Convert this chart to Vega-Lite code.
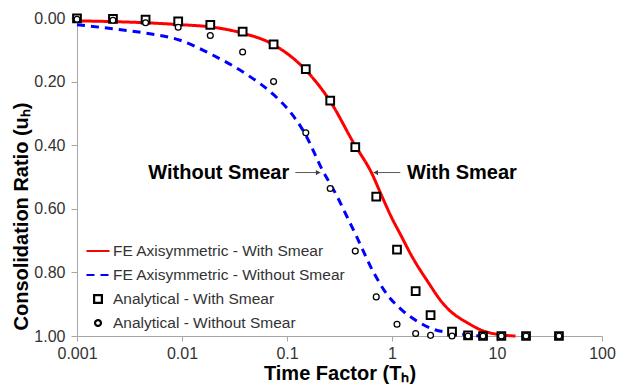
{
  "$schema": "https://vega.github.io/schema/vega-lite/v6.json",
  "width": 525,
  "height": 318,
  "autosize": {"type": "none"},
  "padding": {"left": 77, "top": 18, "right": 24, "bottom": 49},
  "background": "white",
  "config": {
    "view": {"stroke": null},
    "font": "Liberation Sans",
    "axis": {
      "grid": false,
      "labelFlush": false,
      "domainColor": "#a6a6a6",
      "tickColor": "#a6a6a6",
      "labelColor": "#333333",
      "labelFont": "Liberation Sans",
      "labelFontSize": 16,
      "titleFont": "Liberation Sans",
      "titleFontSize": 20,
      "titleFontWeight": "bold",
      "titleColor": "#000000"
    }
  },
  "datasets": {
    "fe": [
      {"T": 0.001, "u": 0.009, "series": "FE Axisymmetric - With Smear"},
      {"T": 0.002, "u": 0.011, "series": "FE Axisymmetric - With Smear"},
      {"T": 0.0045, "u": 0.015, "series": "FE Axisymmetric - With Smear"},
      {"T": 0.0096, "u": 0.021, "series": "FE Axisymmetric - With Smear"},
      {"T": 0.0187, "u": 0.028, "series": "FE Axisymmetric - With Smear"},
      {"T": 0.037, "u": 0.047, "series": "FE Axisymmetric - With Smear"},
      {"T": 0.0745, "u": 0.084, "series": "FE Axisymmetric - With Smear"},
      {"T": 0.149, "u": 0.162, "series": "FE Axisymmetric - With Smear"},
      {"T": 0.258, "u": 0.262, "series": "FE Axisymmetric - With Smear"},
      {"T": 0.431, "u": 0.393, "series": "FE Axisymmetric - With Smear"},
      {"T": 0.645, "u": 0.49, "series": "FE Axisymmetric - With Smear"},
      {"T": 0.8, "u": 0.56, "series": "FE Axisymmetric - With Smear"},
      {"T": 1.0, "u": 0.63, "series": "FE Axisymmetric - With Smear"},
      {"T": 1.2, "u": 0.68, "series": "FE Axisymmetric - With Smear"},
      {"T": 1.55, "u": 0.75, "series": "FE Axisymmetric - With Smear"},
      {"T": 2.2, "u": 0.83, "series": "FE Axisymmetric - With Smear"},
      {"T": 3.1, "u": 0.9, "series": "FE Axisymmetric - With Smear"},
      {"T": 3.6, "u": 0.922, "series": "FE Axisymmetric - With Smear"},
      {"T": 5.2, "u": 0.958, "series": "FE Axisymmetric - With Smear"},
      {"T": 7.4, "u": 0.984, "series": "FE Axisymmetric - With Smear"},
      {"T": 10.8, "u": 0.996, "series": "FE Axisymmetric - With Smear"},
      {"T": 15, "u": 1.0, "series": "FE Axisymmetric - With Smear"},
      {"T": 0.001, "u": 0.021, "series": "FE Axisymmetric - Without Smear"},
      {"T": 0.0022, "u": 0.034, "series": "FE Axisymmetric - Without Smear"},
      {"T": 0.0046, "u": 0.048, "series": "FE Axisymmetric - Without Smear"},
      {"T": 0.0096, "u": 0.07, "series": "FE Axisymmetric - Without Smear"},
      {"T": 0.02, "u": 0.118, "series": "FE Axisymmetric - Without Smear"},
      {"T": 0.0416, "u": 0.178, "series": "FE Axisymmetric - Without Smear"},
      {"T": 0.0745, "u": 0.241, "series": "FE Axisymmetric - Without Smear"},
      {"T": 0.107, "u": 0.295, "series": "FE Axisymmetric - Without Smear"},
      {"T": 0.149, "u": 0.365, "series": "FE Axisymmetric - Without Smear"},
      {"T": 0.215, "u": 0.475, "series": "FE Axisymmetric - Without Smear"},
      {"T": 0.299, "u": 0.56, "series": "FE Axisymmetric - Without Smear"},
      {"T": 0.373, "u": 0.625, "series": "FE Axisymmetric - Without Smear"},
      {"T": 0.464, "u": 0.69, "series": "FE Axisymmetric - Without Smear"},
      {"T": 0.668, "u": 0.8, "series": "FE Axisymmetric - Without Smear"},
      {"T": 0.9, "u": 0.87, "series": "FE Axisymmetric - Without Smear"},
      {"T": 1.2, "u": 0.914, "series": "FE Axisymmetric - Without Smear"},
      {"T": 1.73, "u": 0.953, "series": "FE Axisymmetric - Without Smear"},
      {"T": 2.49, "u": 0.979, "series": "FE Axisymmetric - Without Smear"},
      {"T": 3.59, "u": 0.99, "series": "FE Axisymmetric - Without Smear"},
      {"T": 5.18, "u": 0.996, "series": "FE Axisymmetric - Without Smear"},
      {"T": 6.9, "u": 1.0, "series": "FE Axisymmetric - Without Smear"}
    ],
    "an": [
      {"T": 0.001, "u": 0.0012, "series": "Analytical - With Smear"},
      {"T": 0.0022, "u": 0.0026, "series": "Analytical - With Smear"},
      {"T": 0.0045, "u": 0.0052, "series": "Analytical - With Smear"},
      {"T": 0.0092, "u": 0.0107, "series": "Analytical - With Smear"},
      {"T": 0.0186, "u": 0.0215, "series": "Analytical - With Smear"},
      {"T": 0.0378, "u": 0.043, "series": "Analytical - With Smear"},
      {"T": 0.0745, "u": 0.083, "series": "Analytical - With Smear"},
      {"T": 0.151, "u": 0.161, "series": "Analytical - With Smear"},
      {"T": 0.258, "u": 0.26, "series": "Analytical - With Smear"},
      {"T": 0.447, "u": 0.406, "series": "Analytical - With Smear"},
      {"T": 0.708, "u": 0.562, "series": "Analytical - With Smear"},
      {"T": 1.116, "u": 0.728, "series": "Analytical - With Smear"},
      {"T": 1.68, "u": 0.859, "series": "Analytical - With Smear"},
      {"T": 2.33, "u": 0.934, "series": "Analytical - With Smear"},
      {"T": 3.73, "u": 0.986, "series": "Analytical - With Smear"},
      {"T": 5.3, "u": 0.998, "series": "Analytical - With Smear"},
      {"T": 7.36, "u": 1.0, "series": "Analytical - With Smear"},
      {"T": 11, "u": 1.0, "series": "Analytical - With Smear"},
      {"T": 18.9, "u": 1.0, "series": "Analytical - With Smear"},
      {"T": 38.9, "u": 1.0, "series": "Analytical - With Smear"},
      {"T": 0.001, "u": 0.004, "series": "Analytical - Without Smear"},
      {"T": 0.0022, "u": 0.007, "series": "Analytical - Without Smear"},
      {"T": 0.0045, "u": 0.015, "series": "Analytical - Without Smear"},
      {"T": 0.0092, "u": 0.029, "series": "Analytical - Without Smear"},
      {"T": 0.0186, "u": 0.055, "series": "Analytical - Without Smear"},
      {"T": 0.0378, "u": 0.107, "series": "Analytical - Without Smear"},
      {"T": 0.0745, "u": 0.2, "series": "Analytical - Without Smear"},
      {"T": 0.151, "u": 0.361, "series": "Analytical - Without Smear"},
      {"T": 0.258, "u": 0.536, "series": "Analytical - Without Smear"},
      {"T": 0.447, "u": 0.733, "series": "Analytical - Without Smear"},
      {"T": 0.708, "u": 0.877, "series": "Analytical - Without Smear"},
      {"T": 1.116, "u": 0.963, "series": "Analytical - Without Smear"},
      {"T": 1.68, "u": 0.992, "series": "Analytical - Without Smear"},
      {"T": 2.33, "u": 0.998, "series": "Analytical - Without Smear"},
      {"T": 3.73, "u": 1.0, "series": "Analytical - Without Smear"},
      {"T": 5.3, "u": 1.0, "series": "Analytical - Without Smear"},
      {"T": 7.36, "u": 1.0, "series": "Analytical - Without Smear"},
      {"T": 11, "u": 1.0, "series": "Analytical - Without Smear"},
      {"T": 18.9, "u": 1.0, "series": "Analytical - Without Smear"},
      {"T": 38.9, "u": 1.0, "series": "Analytical - Without Smear"}
    ],
    "arrows": [
      {"T1": 0.12, "T2": 0.2075, "u": 0.486, "head": 0.198, "dir": "right"},
      {"T1": 1.2, "T2": 0.668, "u": 0.486, "head": 0.7, "dir": "left"}
    ],
    "labels": [
      {"T": 0.105, "u": 0.486, "label": "Without Smear", "side": "right"},
      {"T": 1.39, "u": 0.486, "label": "With Smear", "side": "left"}
    ]
  },
  "layer": [
    {
      "data": {"name": "fe"},
      "mark": {"type": "line", "interpolate": "monotone", "strokeWidth": 3},
      "encoding": {
        "x": {
          "field": "T", "type": "quantitative",
          "scale": {"type": "log", "domain": [0.001, 100], "nice": false},
          "axis": {"title": "Time Factor (Tₕ)", "values": [0.001, 0.01, 0.1, 1, 10, 100], "format": "~g", "tickSize": 5, "labelPadding": 4, "titlePadding": 2}
        },
        "y": {
          "field": "u", "type": "quantitative",
          "scale": {"domain": [0, 1], "reverse": true, "nice": false},
          "axis": {"title": "Consolidation Ratio (uₕ)", "values": [0, 0.2, 0.4, 0.6, 0.8, 1.0], "format": ".2f", "tickSize": 6, "labelPadding": 6, "titlePadding": 2, "titleY": 198}
        },
        "stroke": {
          "field": "series", "type": "nominal",
          "scale": {"domain": ["FE Axisymmetric - With Smear", "FE Axisymmetric - Without Smear", "Analytical - With Smear", "Analytical - Without Smear"], "range": ["#ff0000", "#0000ff", "#000000", "#000000"]},
          "legend": {"title": null, "orient": "none", "legendX": 8, "legendY": 221, "labelFontSize": 15.5, "labelFont": "Liberation Sans", "labelColor": "#333333", "clipHeight": 24, "rowPadding": 0, "labelOffset": 2, "labelLimit": 400, "symbolStrokeWidth": 2.2, "symbolOpacity": 1}
        },
        "strokeDash": {
          "field": "series", "type": "nominal",
          "scale": {"domain": ["FE Axisymmetric - With Smear", "FE Axisymmetric - Without Smear", "Analytical - With Smear", "Analytical - Without Smear"], "range": [[1, 0], [8, 6], [1, 0], [1, 0]]},
          "legend": {"title": null}
        }
      }
    },
    {
      "data": {"name": "an"},
      "transform": [{"filter": "datum.series == 'Analytical - With Smear'"}],
      "mark": {"type": "point", "filled": true, "fill": "white", "opacity": 1, "strokeWidth": 2},
      "encoding": {
        "x": {"field": "T", "type": "quantitative"},
        "y": {"field": "u", "type": "quantitative"},
        "stroke": {"field": "series", "type": "nominal"},
        "shape": {
          "field": "series", "type": "nominal",
          "scale": {"domain": ["FE Axisymmetric - With Smear", "FE Axisymmetric - Without Smear", "Analytical - With Smear", "Analytical - Without Smear"], "range": ["stroke", "stroke", "square", "circle"]},
          "legend": {"title": null}
        },
        "size": {
          "field": "series", "type": "nominal",
          "scale": {"type": "ordinal", "domain": ["FE Axisymmetric - With Smear", "FE Axisymmetric - Without Smear", "Analytical - With Smear", "Analytical - Without Smear"], "range": [529, 529, 60, 34]},
          "legend": {"title": null}
        }
      }
    },
    {
      "data": {"name": "an"},
      "transform": [{"filter": "datum.series == 'Analytical - Without Smear'"}],
      "mark": {"type": "point", "filled": true, "fill": "white", "opacity": 1, "strokeWidth": 1.3},
      "encoding": {
        "x": {"field": "T", "type": "quantitative"},
        "y": {"field": "u", "type": "quantitative"},
        "stroke": {"field": "series", "type": "nominal"},
        "shape": {
          "field": "series", "type": "nominal",
          "scale": {"domain": ["FE Axisymmetric - With Smear", "FE Axisymmetric - Without Smear", "Analytical - With Smear", "Analytical - Without Smear"], "range": ["stroke", "stroke", "square", "circle"]},
          "legend": {"title": null}
        },
        "size": {
          "field": "series", "type": "nominal",
          "scale": {"type": "ordinal", "domain": ["FE Axisymmetric - With Smear", "FE Axisymmetric - Without Smear", "Analytical - With Smear", "Analytical - Without Smear"], "range": [529, 529, 60, 34]},
          "legend": {"title": null}
        }
      }
    },
    {
      "data": {"name": "arrows"},
      "mark": {"type": "rule", "color": "#595959", "strokeWidth": 1},
      "encoding": {
        "x": {"field": "T1", "type": "quantitative"},
        "x2": {"field": "T2"},
        "y": {"field": "u", "type": "quantitative"}
      }
    },
    {
      "data": {"name": "arrows"},
      "transform": [{"filter": "datum.dir == 'right'"}],
      "mark": {"type": "point", "shape": "triangle-right", "filled": true, "color": "#404040", "opacity": 1, "size": 28},
      "encoding": {
        "x": {"field": "head", "type": "quantitative"},
        "y": {"field": "u", "type": "quantitative"}
      }
    },
    {
      "data": {"name": "arrows"},
      "transform": [{"filter": "datum.dir == 'left'"}],
      "mark": {"type": "point", "shape": "triangle-left", "filled": true, "color": "#404040", "opacity": 1, "size": 28},
      "encoding": {
        "x": {"field": "head", "type": "quantitative"},
        "y": {"field": "u", "type": "quantitative"}
      }
    },
    {
      "data": {"name": "labels"},
      "transform": [{"filter": "datum.side == 'right'"}],
      "mark": {"type": "text", "align": "right", "baseline": "middle", "fontSize": 20, "fontWeight": "bold", "font": "Liberation Sans", "color": "#000000"},
      "encoding": {
        "x": {"field": "T", "type": "quantitative"},
        "y": {"field": "u", "type": "quantitative"},
        "text": {"field": "label"}
      }
    },
    {
      "data": {"name": "labels"},
      "transform": [{"filter": "datum.side == 'left'"}],
      "mark": {"type": "text", "align": "left", "baseline": "middle", "fontSize": 20, "fontWeight": "bold", "font": "Liberation Sans", "color": "#000000"},
      "encoding": {
        "x": {"field": "T", "type": "quantitative"},
        "y": {"field": "u", "type": "quantitative"},
        "text": {"field": "label"}
      }
    }
  ]
}
